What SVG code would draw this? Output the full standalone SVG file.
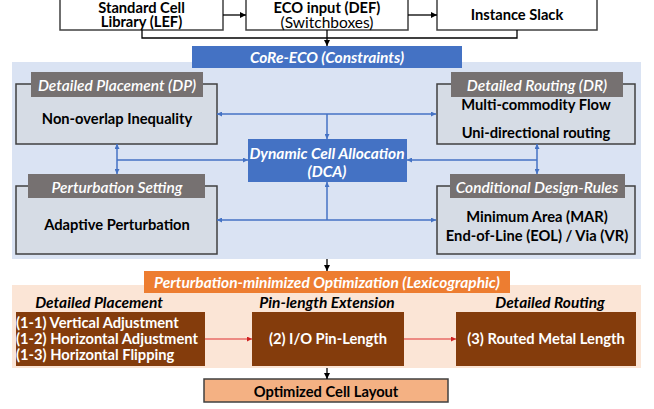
<svg xmlns="http://www.w3.org/2000/svg" width="654" height="409" viewBox="0 0 654 409">
<defs>
<style>
.t{font-family:Lato,"Liberation Sans",sans-serif;font-weight:bold;font-size:14.7px;fill:#000;text-anchor:middle;dominant-baseline:central}
.r{font-weight:normal;font-size:15.5px}
.w{fill:#fff}
.i{font-style:italic;font-size:15.5px}
.s{font-weight:600}
.in{fill:#fff;stroke:#404040;stroke-width:1.5}
.box{fill:#D6DCE5;stroke:#404040;stroke-width:1.5}
.tab{fill:#767171}
.brown{fill:#843C0C}
.bl{stroke:#4472C4;stroke-width:1.5;fill:none}
.bk{stroke:#000;stroke-width:1.3;fill:none}
.rd{stroke:#E03030;stroke-width:1.2;fill:none}
.st{text-anchor:start}
</style>
<marker id="ab" viewBox="0 0 6 6" refX="6" refY="3" markerWidth="5" markerHeight="5" orient="auto-start-reverse" markerUnits="userSpaceOnUse"><path d="M0,0L6,3L0,6z" fill="#4472C4"/></marker>
<marker id="ak" viewBox="0 0 6 6" refX="6" refY="3" markerWidth="6" markerHeight="6" orient="auto" markerUnits="userSpaceOnUse"><path d="M0,0L6,3L0,6z" fill="#000"/></marker>
<marker id="ar" viewBox="0 0 6 6" refX="6" refY="3" markerWidth="5" markerHeight="5" orient="auto" markerUnits="userSpaceOnUse"><path d="M0,0L6,3L0,6z" fill="#D02020"/></marker>
</defs>
<rect width="654" height="409" fill="#fff"/>
<rect x="12" y="62" width="629" height="197" fill="#DAE3F3"/>
<rect x="12" y="285" width="629" height="83" fill="#FBE5D6"/>

<g id="lef"><rect class="in" x="60" y="-10" width="163" height="40"/><text class="t" x="141.5" y="6.5">Standard Cell</text><text class="t" x="141.5" y="21">Library (LEF)</text></g>
<g id="def"><rect class="in" x="246" y="-10" width="162" height="40"/><text class="t" x="327" y="6.5">ECO input (DEF)</text><text class="t r" x="327" y="21.5">(Switchboxes)</text></g>
<g id="slack"><rect class="in" x="437" y="-10" width="160" height="40"/><text class="t" x="517" y="14">Instance Slack</text></g>
<g id="coreeco"><rect x="192" y="46" width="270" height="22" fill="#4472C4"/><text class="t w i" x="327" y="57">CoRe-ECO (Constraints)</text></g>

<g id="dp"><rect class="box" x="16" y="84" width="201" height="60"/><rect class="tab" x="31" y="72" width="172" height="25"/><text class="t w i s" x="117" y="85">Detailed Placement (DP)</text><text class="t" x="117" y="118">Non-overlap Inequality</text></g>
<g id="ps"><rect class="box" x="16" y="186" width="201" height="68"/><rect class="tab" x="28" y="174" width="177" height="24"/><text class="t w i s" x="117" y="187">Perturbation Setting</text><text class="t" x="117" y="224">Adaptive Perturbation</text></g>
<g id="dr"><rect class="box" x="437" y="84" width="198" height="60"/><rect class="tab" x="451" y="72" width="172" height="25"/><text class="t w i s" x="537" y="85">Detailed Routing (DR)</text><text class="t" x="536" y="104">Multi-commodity Flow</text><text class="t" x="536" y="132">Uni-directional routing</text></g>
<g id="cdr"><rect class="box" x="437" y="186" width="198" height="68"/><rect class="tab" x="450" y="174" width="175" height="24"/><text class="t w i s" x="537" y="187">Conditional Design-Rules</text><text class="t" x="537" y="216">Minimum Area (MAR)</text><text class="t" x="537" y="235">End-of-Line (EOL) / Via (VR)</text></g>
<g id="dca"><rect x="248" y="139" width="159" height="43" fill="#4472C4"/><text class="t w i" x="327" y="153">Dynamic Cell Allocation</text><text class="t w i" x="327" y="171">(DCA)</text></g>

<g id="pmo"><rect x="144" y="271" width="366" height="22" fill="#ED7D31"/><text class="t w i" x="327" y="282">Perturbation-minimized Optimization (Lexicographic)</text></g>
<g id="hdr"><text class="t i" x="99" y="302">Detailed Placement</text><text class="t i" x="327" y="302">Pin-length Extension</text><text class="t i" x="550" y="302">Detailed Routing</text></g>
<g id="opt1"><rect class="brown" x="16" y="312" width="189" height="54"/><text class="t w st" x="16" y="322">(1-1) Vertical Adjustment</text><text class="t w st" x="16" y="338">(1-2) Horizontal Adjustment</text><text class="t w st" x="16" y="353.5">(1-3) Horizontal Flipping</text></g>
<g id="opt2"><rect class="brown" x="252" y="312" width="152" height="54"/><text class="t w" x="328" y="338">(2) I/O Pin-Length</text></g>
<g id="opt3"><rect class="brown" x="456" y="312" width="180" height="54"/><text class="t w" x="546" y="338">(3) Routed Metal Length</text></g>
<g id="out"><rect x="204" y="379" width="244" height="23" fill="#F4B183" stroke="#404040" stroke-width="1.5"/><text class="t" x="326" y="391">Optimized Cell Layout</text></g>

<g id="connectors">
<path class="bk" d="M223,15H246" marker-end="url(#ak)"/>
<path class="bk" d="M408,15H437" marker-end="url(#ak)"/>
<path class="bk" d="M142,30V38H517V30"/>
<path class="bk" d="M327,30V46" marker-end="url(#ak)"/>
<path class="bl" d="M217,114H436" marker-start="url(#ab)" marker-end="url(#ab)"/>
<path class="bl" d="M327,114V139" marker-end="url(#ab)"/>
<path class="bl" d="M217,220H436" marker-start="url(#ab)" marker-end="url(#ab)"/>
<path class="bl" d="M327,220V182" marker-end="url(#ab)"/>
<path class="bl" d="M117,144V174" marker-start="url(#ab)" marker-end="url(#ab)"/>
<path class="bl" d="M117,160H248" marker-end="url(#ab)"/>
<path class="bl" d="M537,144V174" marker-start="url(#ab)" marker-end="url(#ab)"/>
<path class="bl" d="M537,160H407" marker-end="url(#ab)"/>
<path class="bk" d="M327,259V271" marker-end="url(#ak)"/>
<path class="rd" d="M205,339H252" marker-end="url(#ar)"/>
<path class="rd" d="M404,339H456" marker-end="url(#ar)"/>
<path class="bk" d="M327,368V379" marker-end="url(#ak)"/>
</g>
</svg>
